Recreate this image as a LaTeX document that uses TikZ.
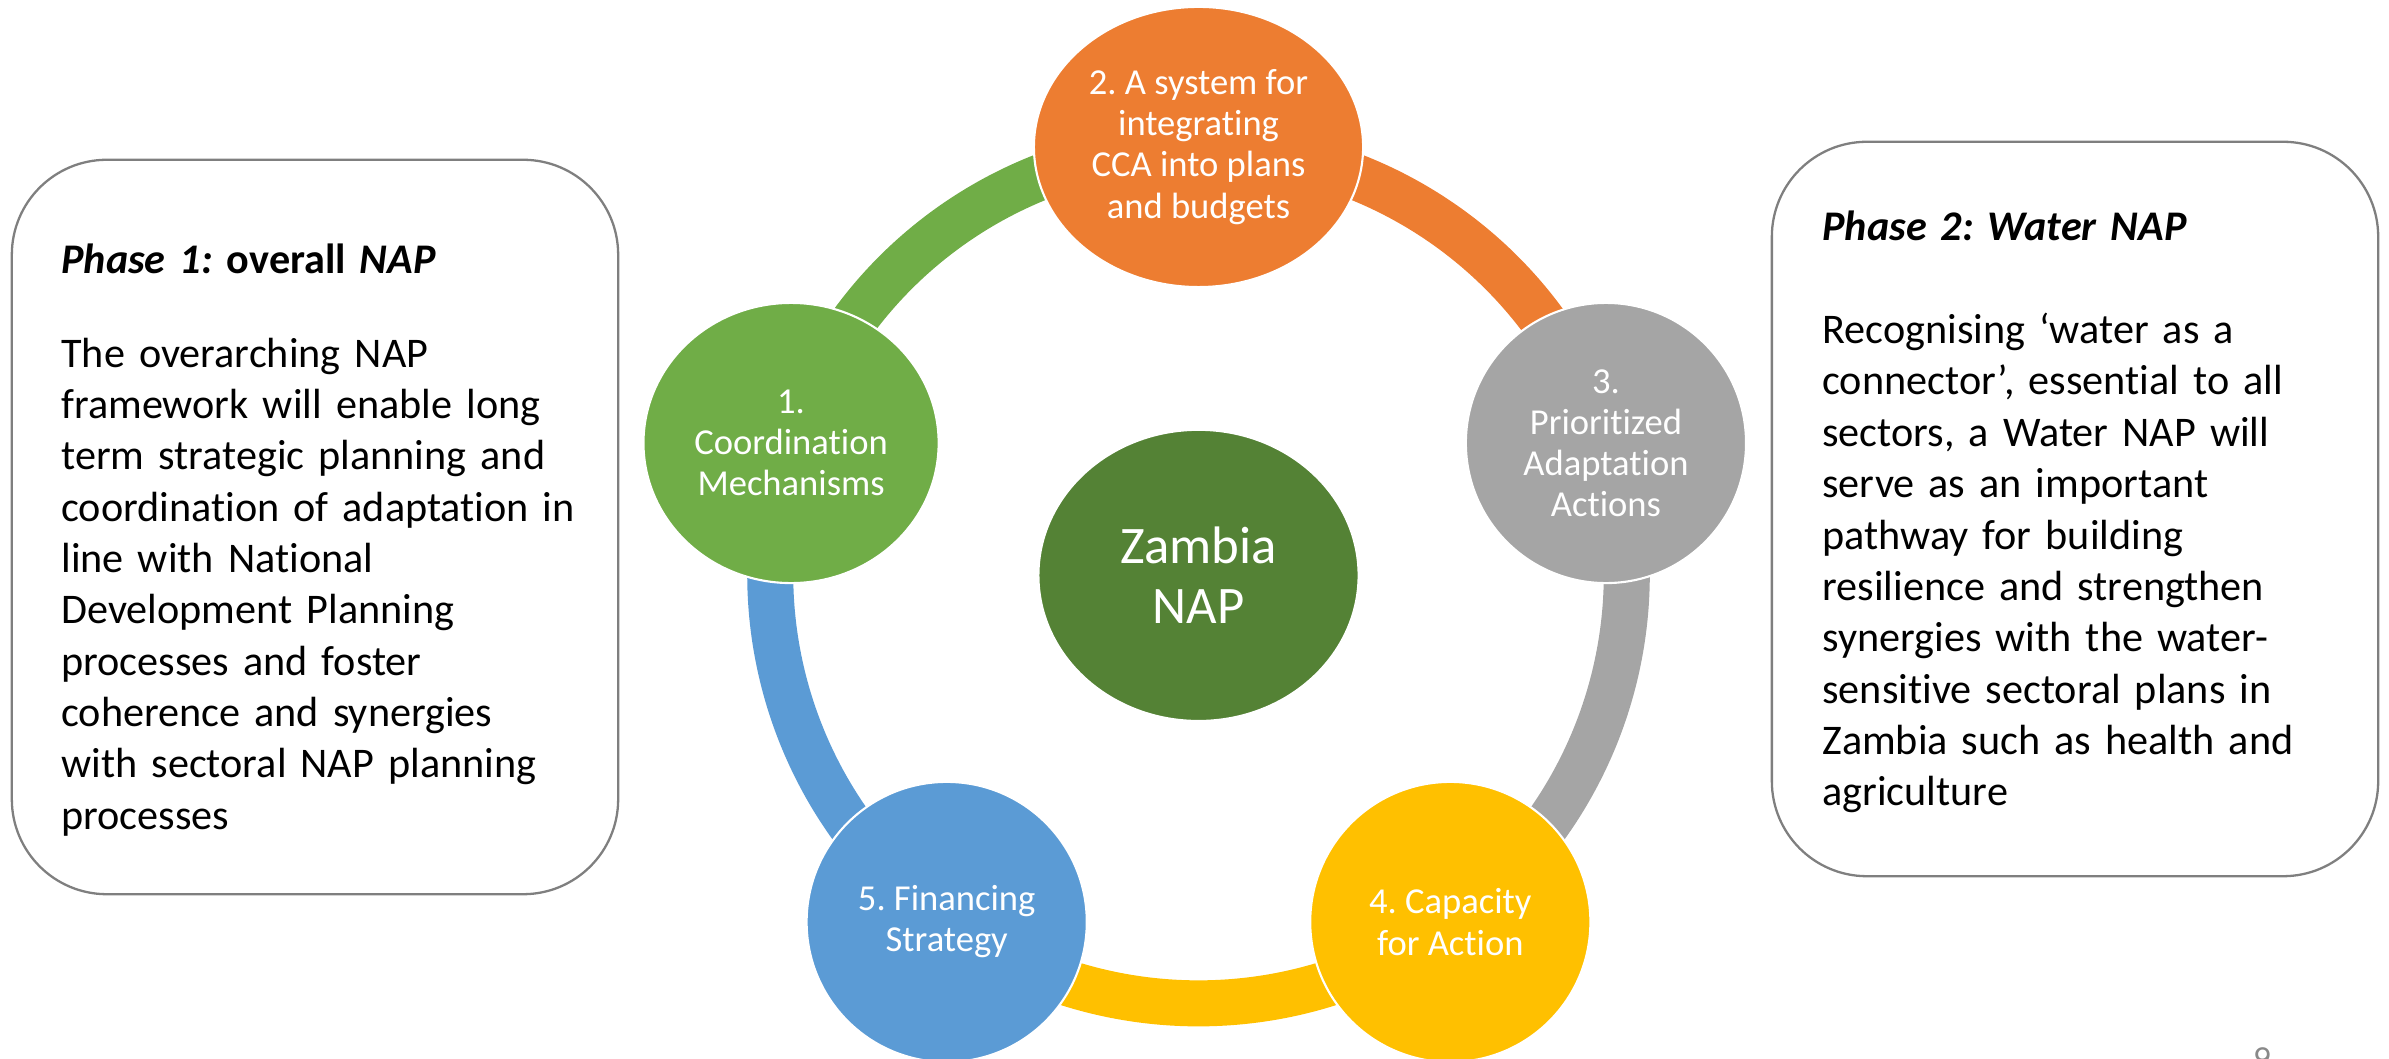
\documentclass[tikz,border=0pt]{standalone}
\usepackage{fontspec}
\setmainfont[Ligatures=NoCommon]{Carlito}
\usepackage{tikz}
\usetikzlibrary{positioning,calc,shapes.geometric,backgrounds}
\frenchspacing
\definecolor{napgreen}{HTML}{70AD47}
\definecolor{naporange}{HTML}{ED7D31}
\definecolor{napgray}{HTML}{A5A5A5}
\definecolor{napyellow}{HTML}{FFC000}
\definecolor{napblue}{HTML}{5B9BD5}
\definecolor{napdark}{HTML}{548235}
\definecolor{phasegray}{HTML}{7F7F7F}
\definecolor{pagegray}{HTML}{898989}
\pgfkeys{tikz/mystage/.style={ellipse,fill=#1,draw=white,line width=0.6pt,text=white,inner sep=0pt,minimum width=2.8cm,minimum height=2.8cm,align=center,font=\fontsize{10.4pt}{11.7pt}\selectfont}}
\pgfkeys{tikz/myring/.style={draw=#1,line width=0.46cm,bend left=36,looseness=0.94}}
\pgfkeys{tikz/myphase/.style={draw=phasegray,line width=0.65pt,rounded corners=0.95cm,minimum width=6.06cm,minimum height=7.34cm,inner sep=0pt}}
\pgfkeys{tikz/mytext/.style={anchor=north west,inner sep=0pt,align=left,text width=5.6cm,font=\fontsize{12pt}{14.6pt}\selectfont}}
\begin{document}
\begin{tikzpicture}[x=0.01cm,y=0.01cm]
\useasboundingbox (0,0) rectangle (2389,1058);
% cycle
\node[mystage=napdark,minimum width=3.2cm,minimum height=2.91cm,font=\fontsize{15pt}{17pt}\selectfont] (n0) at (1198.5,482.6) {Zambia\\NAP};
\node[mystage=napgreen,minimum width=2.95cm] (n1) at ($(n0)+(162:428.4)$) {1.\\Coordination\\Mechanisms};
\node[mystage=naporange,minimum width=3.29cm] (n2) at ($(n0)+(90:428.4)$) {2. A system for\\integrating\\CCA into plans\\and budgets};
\node[mystage=napgray] (n3) at ($(n0)+(18:428.4)$) {3.\\Prioritized\\Adaptation\\Actions};
\node[mystage=napyellow] (n4) at ($(n0)+(-54:428.4)$) {4. Capacity\\for Action};
\node[mystage=napblue] (n5) at ($(n0)+(-126:428.4)$) {5. Financing\\Strategy};
\begin{scope}[on background layer]
  \draw[myring=napgreen] (n1.center) to (n2.center);
  \draw[myring=naporange] (n2.center) to (n3.center);
  \draw[myring=napgray] (n3.center) to (n4.center);
  \draw[myring=napyellow] (n4.center) to (n5.center);
  \draw[myring=napblue] (n5.center) to (n1.center);
\end{scope}
% phases
\node[myphase] (b1) at (315,531) {};
\node[mytext] (t1) at ($(b1.north west)+(50,-85)$) {\textbf{\textit{Phase 1:} overall \textit{NAP}}\\[11.9pt]The overarching NAP\\framework will enable long\\term strategic planning and\\coordination of adaptation in\\line with National\\Development Planning\\processes and foster\\coherence and synergies\\with sectoral NAP planning\\processes};
\node[myphase] (b2) at (2075,549) {};
\node[mytext] (t2) at ($(b2.north west)+(51,-70)$) {\textbf{\textit{Phase 2: Water NAP}}\\[14.6pt]Recognising ‘water as a\\connector’, essential to all\\sectors, a Water NAP will\\serve as an important\\pathway for building\\resilience and strengthen\\synergies with the water-\\sensitive sectoral plans in\\Zambia such as health and\\agriculture};
\node[anchor=north,inner sep=0pt,text=pagegray,font=\fontsize{10pt}{12pt}\selectfont] (pg) at (2262,11) {9};
\end{tikzpicture}
\end{document}
